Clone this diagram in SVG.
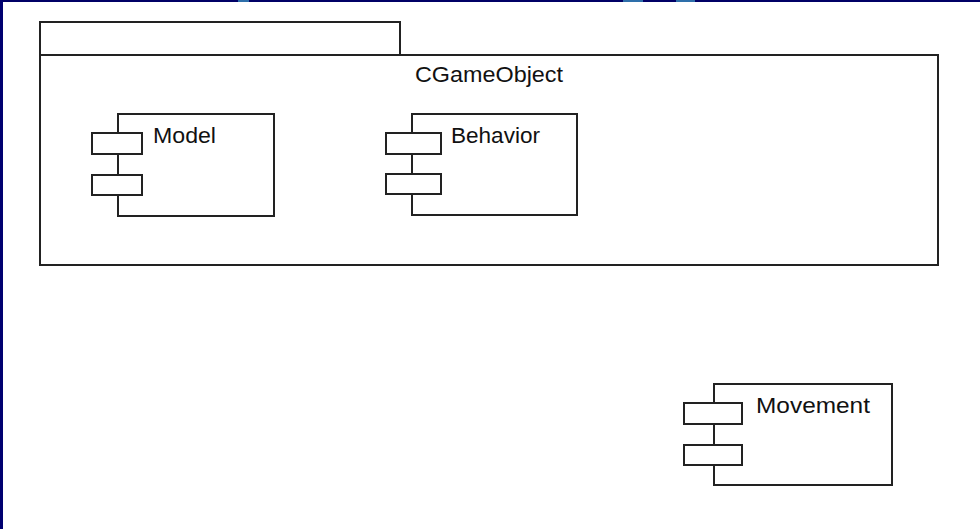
<svg xmlns="http://www.w3.org/2000/svg" width="980" height="529" viewBox="0 0 980 529">
<style>
.ln{fill:#fff;stroke:#222;stroke-width:2}
.t{font-family:"Liberation Sans",Arial,sans-serif;font-size:22px;fill:#111}
</style>
<rect x="0" y="0" width="980" height="529" fill="#fff"/>
<rect x="0" y="0" width="980" height="2" fill="#000066"/>
<rect x="238" y="0" width="11" height="2" fill="#2e6faa"/>
<rect x="623" y="0" width="20" height="2" fill="#2e6faa"/>
<rect x="676" y="0" width="19" height="2" fill="#2e6faa"/>
<rect x="0" y="0" width="3" height="529" fill="#000070"/>
<g id="CGameObject">
<rect class="ln" x="40" y="22" width="360" height="33"/>
<rect class="ln" x="40" y="55" width="898" height="210"/>
<text class="t" x="489" y="82" text-anchor="middle" textLength="148" lengthAdjust="spacingAndGlyphs">CGameObject</text>
</g>
<g id="Model">
<rect class="ln" x="118" y="114" width="156" height="102"/>
<rect class="ln" x="92" y="133" width="50" height="21"/>
<rect class="ln" x="92" y="175" width="50" height="20"/>
<text class="t" x="153" y="143" textLength="63" lengthAdjust="spacingAndGlyphs">Model</text>
</g>
<g id="Behavior">
<rect class="ln" x="412" y="114" width="165" height="101"/>
<rect class="ln" x="386" y="133" width="55" height="21"/>
<rect class="ln" x="386" y="174" width="55" height="20"/>
<text class="t" x="451" y="143" textLength="89" lengthAdjust="spacingAndGlyphs">Behavior</text>
</g>
<g id="Movement">
<rect class="ln" x="714" y="384" width="178" height="101"/>
<rect class="ln" x="684" y="403" width="58" height="21"/>
<rect class="ln" x="684" y="445" width="58" height="20"/>
<text class="t" x="756" y="413" textLength="114" lengthAdjust="spacingAndGlyphs">Movement</text>
</g>
<g id="connectors"></g>
</svg>
